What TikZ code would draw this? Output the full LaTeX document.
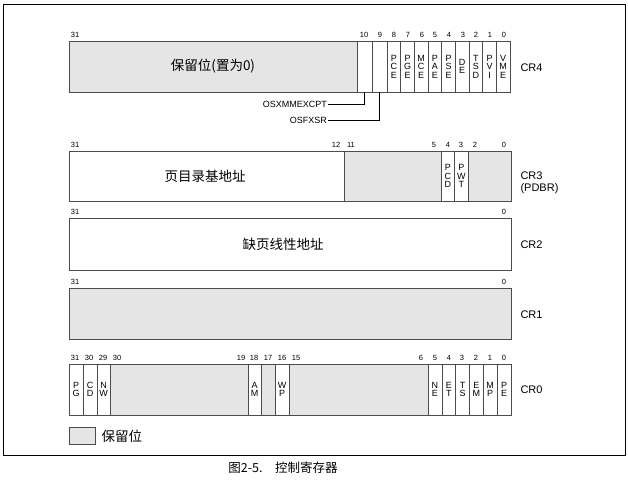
\documentclass[tikz,border=0pt]{standalone}
\usepackage{fontspec}
\setmainfont{Liberation Sans}
\newfontfamily\cjk{Noto Sans CJK SC}
\usetikzlibrary{positioning}
\tikzset{
  reserved/.style={draw=black!70,fill=gray!20,line width=0.6pt},
  field/.style={draw=black!70,fill=white,line width=0.6pt},
  bitno/.style={font=\fontsize{7.5}{8}\selectfont,inner sep=0pt,anchor=south},
  flag/.style={font=\fontsize{9}{8.5}\selectfont,align=center,inner sep=0pt},
  regname/.style={font=\fontsize{11}{12}\selectfont,anchor=west,align=left},
  cnname/.style={font=\cjk\fontsize{13.5}{14}\selectfont}
}
% cell: style, x0, x1, top, bottom, label
\newcommand{\regcell}[6]{\draw[#1] ({#2},{#4}) rectangle ({#3},{#5});
  \node[flag] at ({(#2+#3)/2},{(#4+#5)/2}) {#6};}
\begin{document}
\begin{tikzpicture}[x=1pt,y=-1pt]
\useasboundingbox (0,0) rectangle (628,486);
\draw[line width=0.8pt] (3,455) -- (3,4) -- (625,4) -- (625,455) -- cycle;

% CR4
\regcell{reserved}{69}{357}{41}{92}{}
\node[cnname] (cr4res) at (213,66) {保留位(置为0)};
\regcell{field}{357}{372}{41}{92}{}
\regcell{field}{372}{387}{41}{92}{}
\foreach \lbl [count=\i from 0] in {P\\C\\E,P\\G\\E,M\\C\\E,P\\A\\E,P\\S\\E,D\\E,T\\S\\D,P\\V\\I,V\\M\\E}
  \regcell{field}{387+13.67*\i}{387+13.67*(\i+1)}{41}{92}{\lbl};
\foreach \b/\x in {31/75,10/364,9/380,8/394,7/408,6/422,5/435,4/449,3/463,2/476,1/490,0/504}
  \node[bitno] at (\x,38) {\b};
\node[regname] (cr4) at (517,68) {CR4};
\node[font=\fontsize{9}{10}\selectfont,anchor=east,inner sep=1pt] (osx) at (328,104) {OSXMMEXCPT};
\node[font=\fontsize{9}{10}\selectfont,anchor=east,inner sep=1pt] (fxsr) at (328,120) {OSFXSR};
\coordinate (b10) at (364.5,92);
\coordinate (b9) at (379.5,92);
\draw[line width=0.6pt] (osx.east) -| (b10);
\draw[line width=0.6pt] (fxsr.east) -| (b9);

% CR3
\regcell{field}{69}{344}{151}{201}{}
\node[cnname] (cr3base) at (205,176) {页目录基地址};
\regcell{reserved}{344}{441}{151}{201}{}
\regcell{field}{441}{454.5}{151}{201}{P\\C\\D}
\regcell{field}{454.5}{468}{151}{201}{P\\W\\T}
\regcell{reserved}{468}{511}{151}{201}{}
\foreach \b/\x in {31/75,12/336,11/351,5/434,4/448,3/461,2/475,0/504}
  \node[bitno] at (\x,148) {\b};
\node[regname] (cr3) at (517,183) {CR3\\(PDBR)};

% CR2
\regcell{field}{69}{511}{218}{270}{}
\node[cnname] (cr2addr) at (283,244) {缺页线性地址};
\foreach \b/\x in {31/75,0/504}
  \node[bitno] at (\x,215) {\b};
\node[regname] (cr2) at (517,245) {CR2};

% CR1
\regcell{reserved}{69}{511}{288}{339}{}
\foreach \b/\x in {31/75,0/504}
  \node[bitno] at (\x,285) {\b};
\node[regname] (cr1) at (517,315) {CR1};

% CR0
\regcell{field}{69}{83}{364}{415}{P\\G}
\regcell{field}{83}{97}{364}{415}{C\\D}
\regcell{field}{97}{110}{364}{415}{N\\W}
\regcell{reserved}{110}{248}{364}{415}{}
\regcell{field}{248}{261}{364}{415}{A\\M}
\regcell{reserved}{261}{275}{364}{415}{}
\regcell{field}{275}{289}{364}{415}{W\\P}
\regcell{reserved}{289}{428}{364}{415}{}
\foreach \lbl [count=\i from 0] in {N\\E,E\\T,T\\S,E\\M,M\\P,P\\E}
  \regcell{field}{428+13.83*\i}{428+13.83*(\i+1)}{364}{415}{\lbl};
\foreach \b/\x in {31/75,30/89,29/103,30/117,19/241,18/254,17/268,16/282,15/296,6/421,5/435,4/449,3/462,2/476,1/490,0/504}
  \node[bitno] at (\x,361) {\b};
\node[regname] (cr0) at (517,390) {CR0};

% legend
\draw[reserved] (69,427) rectangle (95,444);
\node[cnname,anchor=west] (legend) at (98,436) {保留位};

% caption
\node[font=\cjk\fontsize{12.5}{13}\selectfont] (caption) at (283,468) {图2-5.\quad 控制寄存器};
\end{tikzpicture}
\end{document}
